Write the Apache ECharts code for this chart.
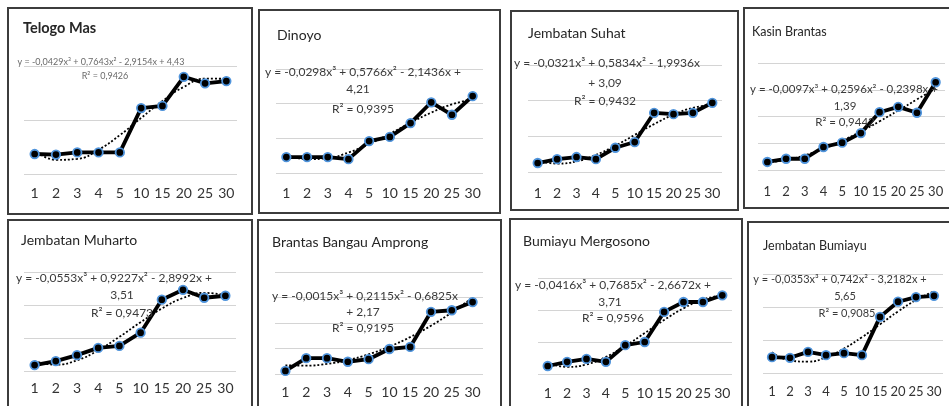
<!DOCTYPE html>
<html>
<head>
<meta charset="utf-8">
<script src="https://cdn.jsdelivr.net/npm/echarts@6/dist/echarts.min.js"></script>
<style>
  html, body { margin: 0; padding: 0; background: #fff; overflow: hidden; }
  #chart { width: 949px; height: 406px; }
</style>
</head>
<body>
<div id="chart"></div>
<script>
// Sampling points (x-axis categories)
const categories = ['1', '2', '3', '4', '5', '10', '15', '20', '25', '30'];

// Station names, one per panel
const stations = ['Telogo Mas', 'Dinoyo', 'Jembatan Suhat', 'Kasin Brantas',
  'Jembatan Muharto', 'Brantas Bangau Amprong', 'Bumiayu Mergosono', 'Jembatan Bumiayu'];

// Measured values per station
const telogoMas = [1.85, 1.8, 2.0, 2.0, 2.0, 6.1, 6.3, 9.0, 8.4, 8.6];
const dinoyo = [2.3, 2.3, 2.3, 2.0, 4.6, 5.2, 7.2, 10.2, 8.4, 11.1];
const jembatanSuhat = [1.26, 1.8, 2.1, 1.8, 3.4, 4.2, 8.3, 8.1, 8.3, 9.7];
const kasinBrantas = [1.5, 2.1, 2.1, 4.3, 5.1, 6.9, 10.8, 11.8, 10.7, 16.4];
const jembatanMuharto = [0.9, 1.5, 2.4, 3.5, 3.8, 5.8, 10.8, 12.3, 11.1, 11.4];
const brantasBangau = [0.6, 3.1, 3.1, 2.4, 2.9, 4.9, 5.3, 12.2, 12.5, 14.1];
const bumiayuMergosono = [1.25, 1.9, 2.35, 1.9, 4.5, 5.0, 9.7, 11.25, 11.25, 12.3];
const jembatanBumiayu = [2.4, 2.3, 3.2, 2.7, 3.0, 2.7, 8.5, 10.8, 11.5, 11.7];

// Polynomial trendline values at each category (from the stated equations)
const trendTelogoMas = [2.24, 1.31, 1.40, 2.25, 3.60, 5.19, 6.76, 8.06, 8.83, 8.81];
const trendDinoyo = [2.61, 1.99, 2.16, 2.95, 4.18, 5.67, 7.24, 8.71, 9.90, 10.63];
const trendJembatanSuhat = [1.65, 1.18, 1.49, 2.40, 3.69, 5.20, 6.71, 8.04, 9.00, 9.39];
const trendKasinBrantas = [1.40, 1.87, 2.75, 3.96, 5.47, 7.20, 9.10, 11.12, 13.19, 15.25];
const trendJembatanMuharto = [1.48, 0.96, 1.62, 3.14, 5.17, 7.39, 9.46, 11.06, 11.84, 11.49];
const trendBrantasBangau = [1.70, 1.64, 1.99, 2.73, 3.86, 5.37, 7.24, 9.48, 12.07, 15.00];
const trendBumiayuMergosono = [1.77, 1.12, 1.50, 2.67, 4.39, 6.39, 8.43, 10.26, 11.63, 12.29];
const trendJembatanBumiayu = [3.14, 1.90, 1.72, 2.39, 3.70, 5.43, 7.37, 9.32, 11.05, 12.37];

// Y-axis upper bounds per panel
const yMax = [10, 15, 15, 20, 15, 20, 15, 15];

// Trendline equation labels
const equations = [
  ['y = -0,0429x³ + 0,7643x² - 2,9154x + 4,43', 'R² = 0,9426'],
  ['y = -0,0298x³ + 0,5766x² - 2,1436x +', '4,21', 'R² = 0,9395'],
  ['y = -0,0321x³ + 0,5834x² - 1,9936x', '+ 3,09', 'R² = 0,9432'],
  ['y = -0,0097x³ + 0,2596x² - 0,2398x +', '1,39', 'R² = 0,9442'],
  ['y = -0,0553x³ + 0,9227x² - 2,8992x +', '3,51', 'R² = 0,9473'],
  ['y = -0,0015x³ + 0,2115x² - 0,6825x', '+ 2,17', 'R² = 0,9195'],
  ['y = -0,0416x³ + 0,7685x² - 2,6672x +', '3,71', 'R² = 0,9596'],
  ['y = -0,0353x³ + 0,742x² - 3,2182x +', '5,65', 'R² = 0,9085']
];

const measured = [telogoMas, dinoyo, jembatanSuhat, kasinBrantas,
  jembatanMuharto, brantasBangau, bumiayuMergosono, jembatanBumiayu];
const trends = [trendTelogoMas, trendDinoyo, trendJembatanSuhat, trendKasinBrantas,
  trendJembatanMuharto, trendBrantasBangau, trendBumiayuMergosono, trendJembatanBumiayu];

// Panel layout: frame box, plot grid, title, axis labels, equation text
const layout = [
  { box: [8, 8, 244, 206], grid: [24, 66, 213, 108], title: [23, 30, 14.5, 'bold'], label: [14, 12],
    eq: { size: 9, color: '#6a6a6a', pts: [[101, 62], [105, 76]] } },
  { box: [259, 10, 241, 203], grid: [276, 69, 207, 104], title: [277, 37, 14, 'normal'], label: [14, 13],
    eq: { size: 12, color: '#3a3a3a', pts: [[363, 72], [358, 89], [363, 109]] } },
  { box: [511, 11, 227, 199], grid: [528, 65, 194, 107], title: [528, 35, 14, 'normal'], label: [14, 14],
    eq: { size: 12, color: '#3a3a3a', pts: [[607, 63], [605, 83], [605, 101]] } },
  { box: [744, 8, 260, 200], grid: [758, 63, 187, 107], title: [752, 33, 12.5, 'normal'], label: [13, 15],
    eq: { size: 11.5, color: '#3a3a3a', pts: [[844, 89], [845, 106], [845, 122]] } },
  { box: [8, 220, 244, 240], grid: [24, 272, 212, 99], title: [21, 242, 14, 'normal'], label: [14, 10],
    eq: { size: 12, color: '#3a3a3a', pts: [[114, 278], [122, 295], [122, 313]] } },
  { box: [258, 220, 243, 240], grid: [275, 272, 208, 102], title: [272, 244, 14, 'normal'], label: [14, 11],
    eq: { size: 12, color: '#3a3a3a', pts: [[365, 296], [363, 312], [363, 328]] } },
  { box: [510, 219, 232, 240], grid: [538, 278, 194, 96], title: [523, 243, 14, 'normal'], label: [14, 12],
    eq: { size: 12, color: '#3a3a3a', pts: [[613, 285], [610, 302], [613, 318]] } },
  { box: [748, 222, 260, 240], grid: [763, 274, 180, 99], title: [763, 247, 12.5, 'normal'], label: [13, 12],
    eq: { size: 11, color: '#3a3a3a', pts: [[840, 279], [845, 296], [847, 313]] } }
];

const FONT = 'Lato, "Open Sans", sans-serif';

const grids = [], xAxes = [], yAxes = [], series = [], titles = [], graphics = [];

layout.forEach((p, i) => {
  // panel frame
  graphics.push({
    type: 'rect', z: 0,
    shape: { x: p.box[0], y: p.box[1], width: p.box[2], height: p.box[3] },
    style: { fill: 'none', stroke: '#3c3c3c', lineWidth: 2 }
  });

  grids.push({ left: p.grid[0], top: p.grid[1], width: p.grid[2], height: p.grid[3], containLabel: false });

  xAxes.push({
    type: 'category', gridIndex: i, data: categories, boundaryGap: true,
    axisLine: { show: false }, axisTick: { show: false },
    axisLabel: { fontFamily: FONT, fontSize: p.label[0], color: '#333333', margin: p.label[1], interval: 0 }
  });

  yAxes.push({
    type: 'value', gridIndex: i, min: 0, max: yMax[i], interval: 5,
    axisLine: { show: false }, axisTick: { show: false }, axisLabel: { show: false },
    splitLine: { show: true, lineStyle: { color: '#d4d4d4', width: 1 } }
  });

  titles.push({
    text: stations[i], left: p.title[0], top: p.title[1] - p.title[2] * 0.62,
    textStyle: { fontFamily: FONT, fontSize: p.title[2], fontWeight: p.title[3], color: '#262626' },
    padding: 0
  });

  // dotted polynomial trendline
  series.push({
    type: 'line', name: stations[i] + ' trend', xAxisIndex: i, yAxisIndex: i,
    data: trends[i], smooth: 0.5, symbol: 'none', z: 3,
    lineStyle: { color: '#000', width: 1.8, type: [2, 2] }, silent: true
  });

  // measured series with markers
  series.push({
    type: 'line', name: stations[i], xAxisIndex: i, yAxisIndex: i,
    data: measured[i], symbol: 'circle', symbolSize: 8.5, z: 4,
    lineStyle: { color: '#000', width: 3.8 },
    itemStyle: { color: '#000', borderColor: '#4f94dc', borderWidth: 1.8 }
  });

  equations[i].forEach((line, k) => {
    graphics.push({
      type: 'text', z: 10,
      x: p.eq.pts[k][0], y: p.eq.pts[k][1],
      style: {
        text: line, fill: p.eq.color, font: p.eq.size + 'px ' + FONT,
        textAlign: 'center', textVerticalAlign: 'middle'
      }
    });
  });
});

const chart = echarts.init(document.getElementById('chart'), null, { renderer: 'canvas' });
chart.setOption({
  backgroundColor: '#ffffff',
  animation: false,
  title: titles,
  grid: grids,
  xAxis: xAxes,
  yAxis: yAxes,
  series: series,
  graphic: graphics
});
</script>
</body>
</html>
